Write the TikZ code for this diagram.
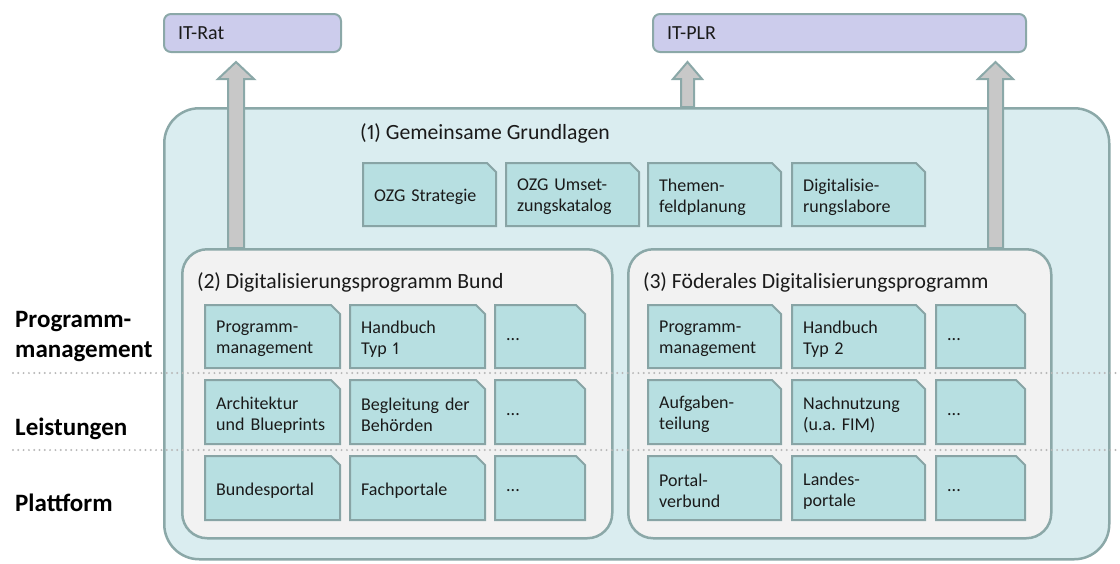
\documentclass[tikz,border=0pt]{standalone}
\usepackage{fontspec}
\setmainfont[Numbers=Proportional]{Carlito}
\usetikzlibrary{calc}
\definecolor{outerfill}{HTML}{DAEDF0}
\definecolor{bordercol}{HTML}{8BA8A8}
\definecolor{progfill}{HTML}{F2F2F2}
\definecolor{docfill}{HTML}{B7DFE1}
\definecolor{docborder}{HTML}{88A4A5}
\definecolor{itfill}{HTML}{CCCCEC}
\definecolor{arrowfill}{HTML}{C8C8C8}
\definecolor{dotcol}{HTML}{B8B8B8}
\definecolor{textcol}{HTML}{1A1A1A}
\tikzset{
  outerbox/.style={draw=bordercol, fill=outerfill, line width=2.5pt, rounded corners=35pt, anchor=north west, inner sep=0pt},
  progbox/.style={draw=bordercol, fill=progfill, line width=2.5pt, rounded corners=25pt, anchor=north west, inner sep=0pt},
  itbox/.style={draw=bordercol, fill=itfill, line width=2pt, rounded corners=7pt, anchor=north west, minimum height=38pt, inner xsep=14pt, inner ysep=0pt, align=left, text=textcol, font=\fontsize{20}{23}\selectfont},
  docshape/.style={draw=docborder, fill=docfill, line width=2pt, line join=miter},
  doctext/.style={anchor=north west, inner xsep=11pt, inner ysep=0pt, align=left, text=textcol, font=\fontsize{18}{21}\selectfont\frenchspacing},
  barrow/.style={draw=bordercol, fill=arrowfill, line width=2pt, line join=miter},
  sepline/.style={draw=dotcol, line width=2.2pt, dash pattern=on 0pt off 5.3pt, line cap=round},
  titletext/.style={anchor=west, inner sep=0pt, text=textcol, font=\fontsize{21.7}{25}\selectfont},
  lbl/.style={anchor=west, inner sep=0pt, align=left, text=black, font=\fontsize{25}{30}\selectfont\bfseries},
}
% block arrow: #1 x-coordinate name, #2 bottom node, #3 top node, #4 shaft half width, #5 head half width
\newcommand\blockarrow[5]{%
  \draw[barrow] let \p1=(#2.north -| #1), \p2=(#3.south -| #1) in
    (\x1-#4,\y1) -- (\x1-#4,\y2-26pt) -- (\x1-#5,\y2-26pt) -- (\x1,\y2-9pt)
    -- (\x1+#5,\y2-26pt) -- (\x1+#4,\y2-26pt) -- (\x1+#4,\y1) -- cycle;}
% document with folded corner: name, x, y, w, h, text
\newcommand\docnode[6]{%
  \pgfmathsetlengthmacro\doctw{#4-22}%
  \path[docshape] (#2,#3) -- ++(#4-9,0) -- ++(9,9) -- ++(0,#5-9) -- ++(-#4,0) -- cycle;
  \node[doctext, minimum width=#4pt, minimum height=#5pt, text width=\doctw] (#1) at (#2,#3+2.5) {#6};}
\begin{document}
\begin{tikzpicture}[x=1pt,y=-1pt]
\useasboundingbox (0,0) rectangle (1120,563);

% outer box
\node[outerbox, minimum width=945pt, minimum height=451pt] (outer) at (163,107) {};

% top boxes
\node[itbox, minimum width=177pt, text width=149pt] (itrat) at (163,13) {IT-Rat};
\node[itbox, minimum width=373pt, text width=345pt] (itplr) at (652,13) {IT-PLR};

% arrow x positions
\coordinate (ax1) at (236,0);
\coordinate (ax2) at (687.5,0);
\coordinate (ax3) at (995.5,0);

% program box placeholders for arrow anchors
\path (181,248) node[anchor=north west, minimum width=430pt, minimum height=289pt, inner sep=0pt] (b2) {};
\path (627,248) node[anchor=north west, minimum width=423pt, minimum height=289pt, inner sep=0pt] (b3) {};

\blockarrow{ax1}{b2}{itrat}{8pt}{18pt}
\blockarrow{ax2}{outer}{itplr}{6.5pt}{14.5pt}
\blockarrow{ax3}{b3}{itplr}{7.5pt}{17.5pt}

\node[progbox, minimum width=430pt, minimum height=289pt] (box2) at (181,248) {};
\node[progbox, minimum width=423pt, minimum height=289pt] (box3) at (627,248) {};

% dotted separators
\coordinate (d1l) at (13,373);
\coordinate (d1r) at (1120,373);
\coordinate (d2l) at (13,450);
\coordinate (d2r) at (1120,450);
\draw[sepline] (d1l) -- (d1r);
\draw[sepline] (d2l) -- (d2r);

% titles
\node[titletext] (t1) at (360,133) {(1) Gemeinsame Grundlagen};
\node[titletext] (t2) at (197,282) {(2) Digitalisierungsprogramm Bund};
\node[titletext] (t3) at (643,282) {(3) Föderales Digitalisierungsprogramm};

% row labels
\node[lbl] (l1) at (15,337) {Programm-\\management};
\node[lbl] (l2) at (15,429) {Leistungen};
\node[lbl] (l3) at (15,503) {Plattform};

% (1) documents
\docnode{g1}{363}{163}{133}{63}{OZG Strategie}
\docnode{g2}{506}{163}{133}{63}{OZG Umset-\\zungskatalog}
\docnode{g3}{648}{163}{133}{63}{Themen-\\feldplanung}
\docnode{g4}{792}{163}{133}{63}{Digitalisie-\\rungslabore}

% (2) documents
\docnode{b2a1}{205}{305}{135}{63}{Programm-\\management}
\docnode{b2a2}{350}{305}{135}{63}{Handbuch\\Typ 1}
\docnode{b2a3}{495}{305}{90}{63}{...}
\docnode{b2b1}{205}{380}{135}{64}{Architektur\\und Blueprints}
\docnode{b2b2}{350}{380}{135}{64}{Begleitung der\\Behörden}
\docnode{b2b3}{495}{380}{90}{64}{...}
\docnode{b2c1}{205}{456}{135}{64}{Bundesportal}
\docnode{b2c2}{350}{456}{135}{64}{Fachportale}
\docnode{b2c3}{495}{456}{90}{64}{...}

% (3) documents
\docnode{b3a1}{648}{305}{133}{63}{Programm-\\management}
\docnode{b3a2}{792}{305}{133}{63}{Handbuch\\Typ 2}
\docnode{b3a3}{936}{305}{89}{63}{...}
\docnode{b3b1}{648}{380}{133}{64}{Aufgaben-\\teilung}
\docnode{b3b2}{792}{380}{133}{64}{Nachnutzung\\(u.a. FIM)}
\docnode{b3b3}{936}{380}{89}{64}{...}
\docnode{b3c1}{648}{456}{133}{64}{Portal-\\verbund}
\docnode{b3c2}{792}{456}{133}{64}{Landes-\\portale}
\docnode{b3c3}{936}{456}{89}{64}{...}
\end{tikzpicture}
\end{document}
